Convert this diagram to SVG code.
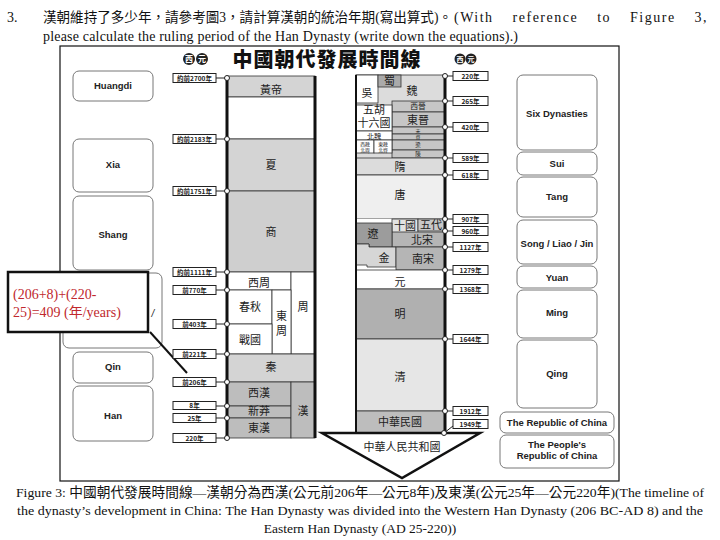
<svg xmlns="http://www.w3.org/2000/svg" width="720" height="540" viewBox="0 0 720 540">
<style>
.hd{font-family:"Liberation Serif","Noto Sans CJK TC",serif;font-size:14px;fill:#111}
.cap{font-family:"Liberation Serif","Noto Sans CJK TC",serif;font-size:13.5px;fill:#111}
.en{font-family:"Liberation Sans",Arial,sans-serif;font-size:9.5px;font-weight:bold;fill:#222;text-anchor:middle}
.ebox{fill:#fff;stroke:#777;stroke-width:1}
.dbox{fill:#fff;stroke:#222;stroke-width:1}
.dt{font-family:"Noto Sans CJK TC","Liberation Sans",sans-serif;font-size:6.5px;font-weight:bold;text-anchor:middle;fill:#222}
.dot{fill:#fff;stroke:#222;stroke-width:1}
.zh{font-family:"Noto Sans CJK TC",sans-serif;font-size:11px;text-anchor:middle;fill:#222}
.sm{font-family:"Noto Sans CJK TC",sans-serif;font-size:10px;text-anchor:middle;fill:#222}
.blk{stroke:#333;stroke-width:0.8}
.cn{stroke:#222;stroke-width:1;fill:none}
.red{font-family:"Liberation Serif","Noto Sans CJK TC",serif;font-size:14px;fill:#c0282d}
</style>

<!-- header -->
<text class="hd" x="7" y="22">3.</text>
<text class="hd" x="43" y="22" textLength="409" lengthAdjust="spacingAndGlyphs">漢朝維持了多少年，請參考圖3，請計算漢朝的統治年期(寫出算式)。</text>
<text class="hd" x="454" y="22" letter-spacing="1.5" word-spacing="14">(With reference to Figure 3,</text>
<text class="hd" x="43" y="41" textLength="475" lengthAdjust="spacing">please calculate the ruling period of the Han Dynasty (write down the equations).)</text>

<!-- frame -->
<rect x="60" y="46" width="559" height="435" fill="#fff" stroke="#111" stroke-width="1.2"/>

<!-- title -->
<text x="327" y="67" font-family="Noto Sans CJK TC,sans-serif" font-size="20" font-weight="900" text-anchor="middle" letter-spacing="1" fill="#111">中國朝代發展時間線</text>
<g id="era-left">
<circle cx="189" cy="59" r="6" fill="#222"/><circle cx="202" cy="59" r="6" fill="#222"/>
<text x="189" y="62" font-family="Noto Sans CJK TC,sans-serif" font-size="8" font-weight="bold" fill="#fff" text-anchor="middle">西</text>
<text x="202" y="62" font-family="Noto Sans CJK TC,sans-serif" font-size="8" font-weight="bold" fill="#fff" text-anchor="middle">元</text>
</g>
<g id="era-right">
<circle cx="460" cy="59" r="5.5" fill="#222"/><circle cx="471" cy="59" r="5.5" fill="#222"/>
<text x="460" y="62" font-family="Noto Sans CJK TC,sans-serif" font-size="7" font-weight="bold" fill="#fff" text-anchor="middle">西</text>
<text x="471" y="62" font-family="Noto Sans CJK TC,sans-serif" font-size="7" font-weight="bold" fill="#fff" text-anchor="middle">元</text>
</g>

<!-- left English boxes -->
<g id="huangdi"><rect class="ebox" x="73" y="71" width="80" height="30" rx="6"/><text class="en" x="113" y="89">Huangdi</text></g>
<g id="xia"><rect class="ebox" x="73" y="139" width="80" height="53" rx="6"/><text class="en" x="113" y="168">Xia</text></g>
<g id="shang"><rect class="ebox" x="73" y="196" width="80" height="74" rx="6"/><text class="en" x="113" y="238">Shang</text></g>
<g id="zhou"><rect class="ebox" x="63" y="273" width="99" height="75" rx="6"/><text x="153" y="317" font-family="Liberation Sans,sans-serif" font-size="10" font-style="italic" fill="#222" text-anchor="middle">/</text></g>
<g id="qin"><rect class="ebox" x="73" y="352" width="80" height="31" rx="6"/><text class="en" x="113" y="370">Qin</text></g>
<g id="han"><rect class="ebox" x="73" y="386" width="80" height="55" rx="6"/><text class="en" x="113" y="419">Han</text></g>

<!-- right English boxes -->
<g id="six"><rect class="ebox" x="517" y="75" width="80" height="75" rx="6"/><text class="en" x="557" y="117">Six Dynasties</text></g>
<g id="sui"><rect class="ebox" x="517" y="152" width="80" height="23" rx="6"/><text class="en" x="557" y="167">Sui</text></g>
<g id="tang"><rect class="ebox" x="517" y="177" width="80" height="40" rx="6"/><text class="en" x="557" y="200">Tang</text></g>
<g id="song"><rect class="ebox" x="517" y="220" width="80" height="44" rx="6"/><text class="en" x="557" y="247">Song / Liao / Jin</text></g>
<g id="yuan"><rect class="ebox" x="517" y="266" width="80" height="22" rx="6"/><text class="en" x="557" y="281">Yuan</text></g>
<g id="ming"><rect class="ebox" x="517" y="290" width="80" height="48" rx="6"/><text class="en" x="557" y="316">Ming</text></g>
<g id="qing"><rect class="ebox" x="517" y="340" width="80" height="68" rx="6"/><text class="en" x="557" y="377">Qing</text></g>
<g id="roc"><rect class="ebox" x="500" y="412" width="114" height="21" rx="6"/><text class="en" x="557" y="426">The Republic of China</text></g>
<g id="prc"><rect class="ebox" x="500" y="435" width="114" height="33" rx="6"/><text class="en" x="557" y="448">The People's</text><text class="en" x="557" y="459">Republic of China</text></g>

<!-- left timeline blocks -->
<g id="left-column">
<rect class="blk" x="227" y="76" width="88" height="21" fill="#d4d4d4"/><text class="zh" x="271" y="94">黃帝</text>
<rect class="blk" x="227" y="97" width="88" height="42" fill="#fff"/>
<rect class="blk" x="227" y="139" width="88" height="52" fill="#d4d4d4"/><text class="zh" x="271" y="169">夏</text>
<rect class="blk" x="227" y="191" width="88" height="81" fill="#cfcfcf"/><text class="zh" x="271" y="236">商</text>
<rect class="blk" x="227" y="272" width="64" height="18" fill="#fff"/><text class="zh" x="259" y="287">西周</text>
<rect class="blk" x="291" y="272" width="24" height="82" fill="#fff"/><text class="zh" x="303" y="311">周</text>
<rect class="blk" x="227" y="290" width="45" height="34" fill="#fff"/><text class="zh" x="250" y="311">春秋</text>
<rect class="blk" x="272" y="290" width="19" height="64" fill="#fff"/><text class="zh" x="281.5" y="320" font-size="10">東</text><text class="zh" x="281.5" y="335" font-size="10">周</text>
<rect class="blk" x="227" y="324" width="45" height="30" fill="#fff"/><text class="zh" x="250" y="344">戰國</text>
<rect class="blk" x="227" y="354" width="88" height="28" fill="#d4d4d4"/><text class="zh" x="271" y="371">秦</text>
<rect class="blk" x="227" y="382" width="64" height="24" fill="#bdbdbd"/><text class="zh" x="259" y="397">西漢</text>
<rect class="blk" x="227" y="406" width="64" height="12" fill="#bdbdbd"/><text class="zh" x="259" y="415" font-size="8">新莽</text>
<rect class="blk" x="227" y="418" width="64" height="20" fill="#bdbdbd"/><text class="zh" x="259" y="432">東漢</text>
<rect class="blk" x="291" y="382" width="24" height="56" fill="#bdbdbd"/><text class="zh" x="303" y="415">漢</text>
<line x1="227" y1="76" x2="227" y2="438" stroke="#111" stroke-width="3"/>
<line x1="315" y1="76" x2="315" y2="438" stroke="#111" stroke-width="3"/>
</g>

<!-- right timeline blocks -->
<g id="right-column">
<rect x="356" y="75" width="89" height="100" fill="#dcdcdc" stroke="#333" stroke-width="0.8"/>
<rect class="blk" x="356" y="75" width="22" height="28" fill="#fff"/><text class="zh" x="367" y="97" font-size="12">吳</text>
<rect class="blk" x="378" y="75" width="23" height="12" fill="#aaa"/><text class="zh" x="389.5" y="84.5" font-size="8">蜀</text>
<text class="zh" x="412" y="95" font-size="11.5">魏</text>
<rect class="blk" x="392" y="101" width="53" height="11" fill="#c6c6c6"/><text class="sm" transform="translate(418,109.2) scale(0.78)">西晉</text>
<rect class="blk" x="392" y="112" width="53" height="15" fill="#c6c6c6"/><text class="zh" x="418" y="123.5" font-size="8.5">東晉</text>
<rect class="blk" x="392" y="127" width="53" height="7" fill="#c6c6c6"/><text class="sm" transform="translate(418,132.6) scale(0.5)">宋</text>
<rect class="blk" x="392" y="134" width="53" height="6" fill="#c6c6c6"/><text class="sm" transform="translate(418,139) scale(0.45)">齊</text>
<rect class="blk" x="392" y="140" width="53" height="10" fill="#c6c6c6"/><text class="sm" transform="translate(418,147) scale(0.55)">梁</text>
<rect class="blk" x="392" y="150" width="53" height="8" fill="#c6c6c6"/><text class="sm" transform="translate(418,156) scale(0.55)">陳</text>
<rect class="blk" x="356" y="105" width="36" height="26" fill="#fff"/><text class="zh" x="374" y="113.8" font-size="8">五胡</text><text class="zh" x="374" y="127.3" font-size="8">十六國</text>
<rect class="blk" x="356" y="131" width="36" height="9" fill="#fff"/><text class="sm" transform="translate(374,138.8) scale(0.72)">北魏</text>
<rect class="blk" x="356" y="140" width="18" height="13" fill="#fff"/><text class="sm" transform="translate(365,145.6) scale(0.48)">西魏</text><text class="sm" transform="translate(365,151.6) scale(0.48)">北周</text>
<rect class="blk" x="374" y="140" width="18" height="13" fill="#fff"/><text class="sm" transform="translate(383,145.6) scale(0.48)">東魏</text><text class="sm" transform="translate(383,151.6) scale(0.48)">北齊</text>
<rect class="blk" x="356" y="158" width="89" height="17" fill="#dcdcdc"/><text class="zh" x="400" y="171" font-size="12">隋</text>
<rect class="blk" x="356" y="175" width="89" height="44" fill="#efefef"/><text class="zh" x="400" y="199">唐</text>
<rect x="356" y="219" width="89" height="51" fill="#fff"/>
<rect class="blk" x="392" y="219" width="26" height="14" fill="#e2e2e2"/><text class="zh" x="405" y="229.5" font-size="9">十國</text>
<rect class="blk" x="418" y="219" width="27" height="12" fill="#c8c8c8"/><text class="zh" x="431" y="228.5" font-size="9">五代</text>
<rect class="blk" x="392" y="232" width="53" height="15" fill="#b5b5b5"/><text class="zh" x="422" y="244">北宋</text>
<polygon class="blk" points="356,223 392,223 392,247 369,247 369,244 356,244" fill="#9c9c9c"/><text class="zh" x="373" y="238">遼</text>
<polygon class="blk" points="356,244 369,244 369,247 396,247 396,267 367,267 367,265 356,265" fill="#d6d6d6"/><text class="zh" x="384" y="262">金</text>
<rect class="blk" x="396" y="247" width="49" height="23" fill="#b5b5b5"/><text class="zh" x="423" y="263">南宋</text>
<rect class="blk" x="356" y="270" width="89" height="19" fill="#fff"/><text class="zh" x="400" y="286">元</text>
<rect class="blk" x="356" y="289" width="89" height="50" fill="#b0b0b0"/><text class="zh" x="400" y="318">明</text>
<rect class="blk" x="356" y="339" width="89" height="72" fill="#e6e6e6"/><text class="zh" x="400" y="381">清</text>
<rect class="blk" x="356" y="411" width="89" height="22" fill="#bdbdbd"/><text class="zh" x="400" y="426">中華民國</text>
<line x1="356" y1="75" x2="356" y2="433" stroke="#111" stroke-width="2"/>
<line x1="445" y1="75" x2="445" y2="433" stroke="#111" stroke-width="3"/>
</g>

<g id="prc-arrow">
<polygon points="322,433 480,433 402,478" fill="#fff" stroke="#111" stroke-width="2.5" stroke-linejoin="miter"/>
<text class="zh" x="402" y="451" font-size="10.5">中華人民共和國</text>
</g>

<!-- connectors -->
<g id="connectors">
<line class="cn" x1="216" y1="78" x2="227" y2="78"/>
<line class="cn" x1="216" y1="139" x2="227" y2="139"/>
<line class="cn" x1="216" y1="191" x2="227" y2="191"/>
<line class="cn" x1="216" y1="272" x2="227" y2="272"/>
<line class="cn" x1="216" y1="290" x2="227" y2="290"/>
<line class="cn" x1="216" y1="324" x2="227" y2="324"/>
<line class="cn" x1="216" y1="354" x2="227" y2="354"/>
<line class="cn" x1="216" y1="382" x2="227" y2="382"/>
<line class="cn" x1="216" y1="406" x2="227" y2="406"/>
<line class="cn" x1="216" y1="418" x2="227" y2="418"/>
<line class="cn" x1="216" y1="438" x2="227" y2="438"/>
<line class="cn" x1="445" y1="76" x2="453" y2="76"/>
<line class="cn" x1="445" y1="101" x2="453" y2="101"/>
<line class="cn" x1="445" y1="127" x2="453" y2="127"/>
<line class="cn" x1="445" y1="158" x2="453" y2="158"/>
<line class="cn" x1="445" y1="175" x2="453" y2="175"/>
<line class="cn" x1="445" y1="219" x2="453" y2="219"/>
<line class="cn" x1="445" y1="231" x2="453" y2="231"/>
<line class="cn" x1="445" y1="247" x2="453" y2="247"/>
<line class="cn" x1="445" y1="270" x2="453" y2="270"/>
<line class="cn" x1="445" y1="289" x2="453" y2="289"/>
<line class="cn" x1="445" y1="339" x2="453" y2="339"/>
<line class="cn" x1="445" y1="411" x2="453" y2="411"/>
<line class="cn" x1="444" y1="433" x2="453" y2="426"/>
<line x1="150" y1="332" x2="187" y2="373" stroke="#111" stroke-width="2"/>
</g>

<!-- dots -->
<g id="dots">
<circle class="dot" cx="227" cy="78" r="2.5"/><circle class="dot" cx="227" cy="139" r="2.5"/><circle class="dot" cx="227" cy="191" r="2.5"/>
<circle class="dot" cx="227" cy="272" r="2.5"/><circle class="dot" cx="227" cy="290" r="2.5"/><circle class="dot" cx="227" cy="324" r="2.5"/>
<circle class="dot" cx="227" cy="354" r="2.5"/><circle class="dot" cx="227" cy="382" r="2.5"/><circle class="dot" cx="227" cy="406" r="2.5"/>
<circle class="dot" cx="227" cy="418" r="2.5"/><circle class="dot" cx="227" cy="438" r="2.5"/>
<circle class="dot" cx="445" cy="76" r="2.5"/><circle class="dot" cx="445" cy="101" r="2.5"/><circle class="dot" cx="445" cy="127" r="2.5"/>
<circle class="dot" cx="445" cy="158" r="2.5"/><circle class="dot" cx="445" cy="175" r="2.5"/><circle class="dot" cx="445" cy="219" r="2.5"/>
<circle class="dot" cx="445" cy="231" r="2.5"/><circle class="dot" cx="445" cy="247" r="2.5"/><circle class="dot" cx="445" cy="270" r="2.5"/>
<circle class="dot" cx="445" cy="289" r="2.5"/><circle class="dot" cx="445" cy="339" r="2.5"/><circle class="dot" cx="445" cy="411" r="2.5"/>
<circle class="dot" cx="444" cy="433" r="2.5"/>
</g>

<!-- date labels -->
<g id="dates-left">
<rect class="dbox" x="173" y="73.5" width="43" height="9"/><text class="dt" x="194.5" y="80.5">約前2700年</text>
<rect class="dbox" x="173" y="134.5" width="43" height="9"/><text class="dt" x="194.5" y="141.5">約前2183年</text>
<rect class="dbox" x="173" y="186.5" width="43" height="9"/><text class="dt" x="194.5" y="193.5">約前1751年</text>
<rect class="dbox" x="173" y="267.5" width="43" height="9"/><text class="dt" x="194.5" y="274.5">約前1111年</text>
<rect class="dbox" x="173" y="285.5" width="43" height="9"/><text class="dt" x="194.5" y="292.5">前770年</text>
<rect class="dbox" x="173" y="319.5" width="43" height="9"/><text class="dt" x="194.5" y="326.5">前403年</text>
<rect class="dbox" x="173" y="349.5" width="43" height="9"/><text class="dt" x="194.5" y="356.5">前221年</text>
<rect class="dbox" x="173" y="377.5" width="43" height="9"/><text class="dt" x="194.5" y="384.5">前206年</text>
<rect class="dbox" x="173" y="401.5" width="43" height="8"/><text class="dt" x="194.5" y="408">8年</text>
<rect class="dbox" x="173" y="413.5" width="43" height="9"/><text class="dt" x="194.5" y="420.5">25年</text>
<rect class="dbox" x="173" y="433.5" width="43" height="9"/><text class="dt" x="194.5" y="440.5">220年</text>
</g>
<g id="dates-right">
<rect class="dbox" x="453" y="71.5" width="35" height="9"/><text class="dt" x="470.5" y="78.5">220年</text>
<rect class="dbox" x="453" y="96.5" width="35" height="9"/><text class="dt" x="470.5" y="103.5">265年</text>
<rect class="dbox" x="453" y="122.5" width="35" height="9"/><text class="dt" x="470.5" y="129.5">420年</text>
<rect class="dbox" x="453" y="153.5" width="35" height="9"/><text class="dt" x="470.5" y="160.5">589年</text>
<rect class="dbox" x="453" y="170.5" width="35" height="9"/><text class="dt" x="470.5" y="177.5">618年</text>
<rect class="dbox" x="453" y="214.5" width="35" height="9"/><text class="dt" x="470.5" y="221.5">907年</text>
<rect class="dbox" x="453" y="226.5" width="35" height="9"/><text class="dt" x="470.5" y="233.5">960年</text>
<rect class="dbox" x="453" y="242.5" width="35" height="9"/><text class="dt" x="470.5" y="249.5">1127年</text>
<rect class="dbox" x="453" y="265.5" width="35" height="9"/><text class="dt" x="470.5" y="272.5">1279年</text>
<rect class="dbox" x="453" y="284.5" width="35" height="9"/><text class="dt" x="470.5" y="291.5">1368年</text>
<rect class="dbox" x="453" y="334.5" width="35" height="9"/><text class="dt" x="470.5" y="341.5">1644年</text>
<rect class="dbox" x="453" y="406.5" width="35" height="9"/><text class="dt" x="470.5" y="413.5">1912年</text>
<rect class="dbox" x="453" y="419.5" width="35" height="9"/><text class="dt" x="470.5" y="426.5">1949年</text>
</g>

<!-- callout -->
<g id="callout">
<rect x="8" y="272" width="140" height="60" fill="#fff" stroke="#111" stroke-width="2.5"/>
<text class="red" x="13" y="299">(206+8)+(220-</text>
<text class="red" x="13" y="317">25)=409 (年/years)</text>
</g>

<!-- caption -->
<text class="cap" x="16" y="497" textLength="688" lengthAdjust="spacingAndGlyphs">Figure 3: 中國朝代發展時間線—漢朝分為西漢(公元前206年—公元8年)及東漢(公元25年—公元220年)(The timeline of</text>
<text class="cap" x="17" y="515" textLength="686" lengthAdjust="spacingAndGlyphs">the dynasty’s development in China: The Han Dynasty was divided into the Western Han Dynasty (206 BC-AD 8) and the</text>
<text class="cap" x="360" y="533" text-anchor="middle">Eastern Han Dynasty (AD 25-220))</text>
</svg>
